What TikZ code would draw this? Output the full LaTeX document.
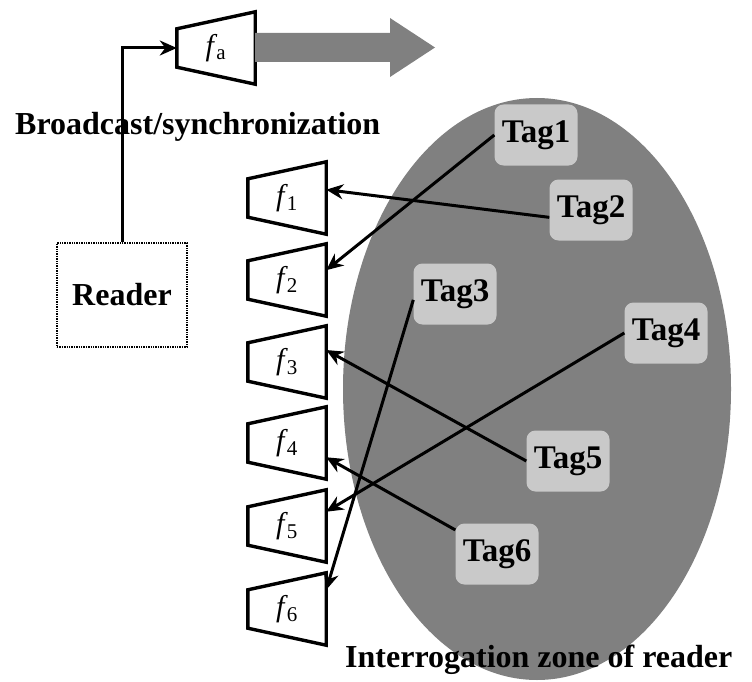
\documentclass[tikz,border=0pt]{standalone}
\usepackage{fontspec}
\setmainfont{Liberation Serif}
\usetikzlibrary{arrows.meta,positioning}

\definecolor{zonegray}{gray}{0.5}
\definecolor{beamgray}{gray}{0.5}
\definecolor{tagfill}{gray}{0.79}

\tikzset{
  chan/.style={minimum width=78pt, minimum height=72pt, inner sep=0pt, font=\fontsize{30}{32}\selectfont},
  chanline/.style={line width=3.4pt, line join=miter},
  tagbox/.style={fill=tagfill, rounded corners=9pt, minimum width=83pt, minimum height=61pt, inner sep=0pt, font=\fontsize{33}{36}\selectfont\bfseries},
  link/.style={line width=3pt, -{Stealth[length=17pt,width=15pt]}},
  lbl/.style={font=\fontsize{32}{36}\selectfont\bfseries, inner sep=0pt},
}

\begin{document}
\begin{tikzpicture}[x=1pt,y=-1pt]
    \useasboundingbox (0,0) rectangle (752,682);
    % interrogation zone
    \fill[zonegray] (537,389) ellipse [x radius=194pt, y radius=291pt];
    \node[lbl, anchor=base west] (zonelbl) at (345,667) {Interrogation zone of reader};

    % channels
    \node[chan] (fa) at (216,48) {\textit{f}\kern-1pt\textsubscript{a}};
    \foreach \n/\y in {1/198,2/280,3/362,4/443,5/526,6/609}
        \node[chan] (f\n) at (287,\y) {\textit{f}\kern-1pt\textsubscript{\n}};
    \foreach \n in {a,1,2,3,4,5,6}
        \draw[chanline] (f\n.north east) -- (f\n.south east) -- ([yshift=17pt]f\n.south west)
            -- ([yshift=-17pt]f\n.north west) -- cycle;

    % broadcast beam
    \fill[beamgray] (255,33) -- (390,33) -- (390,18) -- (435,47.5) -- (390,77) -- (390,62) -- (255,62) -- cycle;

    % reader
    \node[lbl, anchor=base west] (bcast) at (15,135) {Broadcast/synchronization};
    \node[lbl, draw, densely dotted, line width=1.4pt, minimum width=130pt, minimum height=104pt] (reader) at (122,295) {Reader};
    \draw[link] (reader.north) |- (fa.west);

    % tags
    \node[tagbox] (tag1) at (536,135) {Tag1};
    \node[tagbox] (tag2) at (591,210) {Tag2};
    \node[tagbox] (tag3) at (455,294) {Tag3};
    \node[tagbox] (tag4) at (666,333) {Tag4};
    \node[tagbox] (tag5) at (568,461) {Tag5};
    \node[tagbox] (tag6) at (497,554) {Tag6};

    % replies
    \draw[link] (tag1.west) -- (f2.14);
    \draw[link] (tag2.190) -- (f1.12);
    \draw[link] (tag3.188) -- (f6.26);
    \draw[link] (tag4.west) -- (f5.20);
    \draw[link] (tag5.west) -- (f3.17);
    \draw[link] (tag6.150) -- (f4.340);
\end{tikzpicture}
\end{document}
